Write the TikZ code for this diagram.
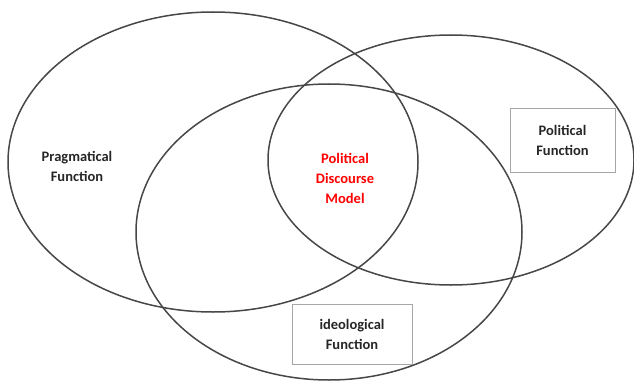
\documentclass[tikz,border=0pt]{standalone}
\usepackage{fontspec}
\setmainfont{Carlito}
\usetikzlibrary{shapes.geometric}
\tikzset{
  venn/.style={draw=black!72, line width=1.5pt, ellipse, inner sep=0pt},
  lbl/.style={font=\fontsize{14.5}{20}\selectfont\bfseries, align=center, text=black!85},
  lblbox/.style={lbl, draw=black!35, line width=0.8pt, inner sep=0pt},
}
\begin{document}
\begin{tikzpicture}[x=1pt,y=1pt]
\useasboundingbox (0,0) rectangle (634,381);
\node[venn, minimum width=410, minimum height=300] (prag) at (213,219) {};
\node[venn, minimum width=366, minimum height=250] (pol) at (451,221) {};
\node[venn, minimum width=386, minimum height=296] (ideo) at (329,149) {};
\node[lbl] (pragt) at (77,215) {Pragmatical\\Function};
\node[lbl, text=red] (model) at (345,203) {Political\\Discourse\\Model};
\node[lblbox, minimum width=105, minimum height=64] (polt) at (562.5,241) {Political\\Function};
\node[lblbox, minimum width=120, minimum height=60] (ideot) at (352,47) {ideological\\Function};
\end{tikzpicture}
\end{document}
